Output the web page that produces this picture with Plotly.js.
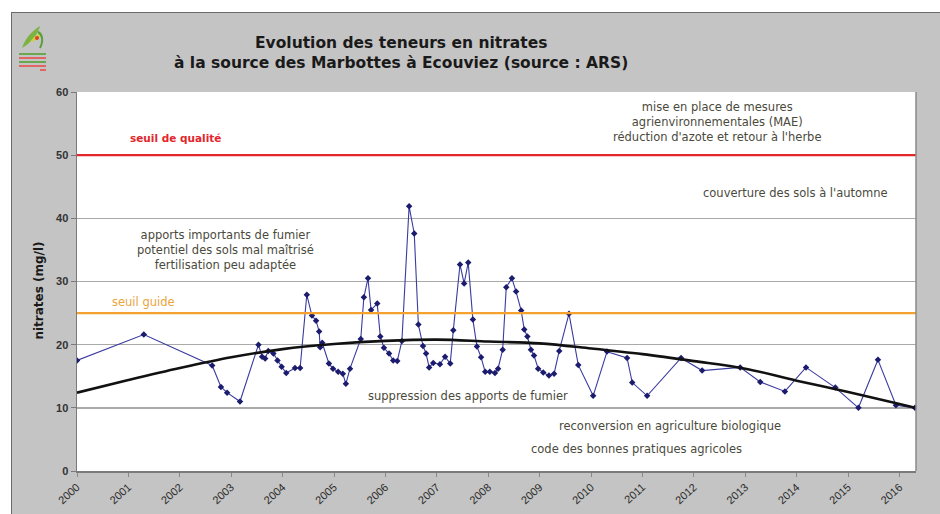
<!DOCTYPE html>
<html>
<head>
<meta charset="utf-8">
<script src="https://cdn.plot.ly/plotly-3.0.1.min.js"></script>
<style>
  html, body { margin: 0; padding: 0; background: #ffffff; width: 940px; height: 514px; overflow: hidden; }
  #wrap { position: absolute; left: 11px; top: 12px; width: 929px; height: 502px;
          border-top: 1px solid #6a6a6a; border-left: 1px solid #6a6a6a; box-sizing: border-box; }
  #chart { position: absolute; left: 0; top: 0; width: 928px; height: 501px; }
  #logo { position: absolute; left: 18px; top: 24px; width: 30px; height: 50px; }
</style>
</head>
<body>
<div id="wrap"><div id="chart"></div></div>
<svg id="logo" viewBox="0 0 30 50" xmlns="http://www.w3.org/2000/svg">
  <path d="M4 24 C 8 12, 16 6, 22 2 C 20 10, 14 18, 4 24 Z" fill="#7cb342"/>
  <path d="M12 18 C 16 12, 20 10, 24 9 C 22 14, 18 17, 12 18 Z" fill="#c8d43a"/>
  <path d="M20 8 C 24 10, 26 16, 22 24" stroke="#5a9e3a" stroke-width="2" fill="none"/>
  <circle cx="19" cy="14" r="2" fill="#e0402a"/>
  <rect x="1" y="29" width="27" height="2" fill="#6aa84f"/>
  <rect x="1" y="33" width="27" height="2" fill="#e06666"/>
  <rect x="1" y="37" width="27" height="2" fill="#6aa84f"/>
  <rect x="1" y="41" width="27" height="2" fill="#e06666"/>
  <rect x="22" y="45" width="6" height="2" fill="#e06666"/>
</svg>
<script>
// ---- data ----
const sampleYears = [
  2000.0, 2001.3, 2002.63, 2002.8, 2002.92, 2003.17, 2003.53, 2003.6, 2003.66, 2003.72,
  2003.82, 2003.9, 2003.98, 2004.07, 2004.24, 2004.34, 2004.47, 2004.57, 2004.65, 2004.71,
  2004.73, 2004.77, 2004.9, 2004.98, 2005.08, 2005.17, 2005.23, 2005.31, 2005.52, 2005.58,
  2005.66, 2005.72, 2005.84, 2005.9, 2005.97, 2006.07, 2006.15, 2006.23, 2006.32, 2006.46,
  2006.56, 2006.64, 2006.73, 2006.79, 2006.85, 2006.93, 2007.06, 2007.16, 2007.26, 2007.32,
  2007.45, 2007.53, 2007.61, 2007.7, 2007.78, 2007.86, 2007.94, 2008.03, 2008.13, 2008.19,
  2008.28, 2008.35, 2008.46, 2008.54, 2008.64, 2008.7, 2008.76, 2008.83, 2008.89, 2008.97,
  2009.07, 2009.18, 2009.28, 2009.38, 2009.57, 2009.75, 2010.04, 2010.31, 2010.7, 2010.8,
  2011.09, 2011.75, 2012.16, 2012.9, 2013.29, 2013.77, 2014.18, 2014.75, 2015.2, 2015.58,
  2015.93, 2016.3
];
const nitrates = [
  17.5, 21.6, 16.7, 13.3, 12.4, 11.0, 20.0, 18.1, 17.8, 19.0,
  18.6, 17.5, 16.5, 15.5, 16.3, 16.3, 27.9, 24.6, 23.8, 22.1,
  19.6, 20.3, 17.0, 16.2, 15.7, 15.4, 13.8, 16.2, 20.9, 27.5,
  30.5, 25.5, 26.5, 21.3, 19.5, 18.6, 17.5, 17.4, 20.6, 41.9,
  37.6, 23.2, 19.8, 18.6, 16.4, 17.1, 16.9, 18.1, 17.0, 22.3,
  32.7, 29.7, 33.0, 24.0, 19.7, 18.0, 15.7, 15.7, 15.5, 16.2,
  19.2, 29.1, 30.5, 28.4, 25.4, 22.4, 21.3, 19.2, 18.3, 16.2,
  15.6, 15.1, 15.4, 19.0, 24.9, 16.8, 11.9, 18.9, 17.9, 14.0,
  11.9, 17.9, 15.9, 16.4, 14.1, 12.6, 16.4, 13.2, 10.0, 17.6,
  10.4, 10.0
];
// trend curve, read at each year
const trendYears  = [2000, 2001, 2002, 2003, 2004, 2005, 2006, 2007, 2008, 2009, 2010, 2011, 2012, 2013, 2014, 2015, 2016, 2016.3];
const trendValues = [12.4, 14.4, 16.3, 18.0, 19.3, 20.1, 20.6, 20.8, 20.5, 20.2, 19.4, 18.5, 17.4, 16.2, 14.3, 12.5, 10.6, 10.0];

const tickYears  = [2000, 2001, 2002, 2003, 2004, 2005, 2006, 2007, 2008, 2009, 2010, 2011, 2012, 2013, 2014, 2015, 2016];
const tickLabels = tickYears.map(String);

const thresholdValues = [50, 25];
const thresholdNames  = ['seuil de qualité', 'seuil guide'];

const titleLines = [
  'Evolution des teneurs en nitrates',
  'à la source des Marbottes à Ecouviez (source : ARS)'
];

const noteTexts = [
  'apports importants de fumier<br>potentiel des sols mal maîtrisé<br>fertilisation peu adaptée',
  'mise en place de mesures<br>agrienvironnementales (MAE)<br>réduction d\'azote et retour à l\'herbe',
  'couverture des sols à l\'automne',
  'suppression des apports de fumier',
  'reconversion en agriculture biologique',
  'code des bonnes pratiques agricoles'
];
const noteX = [2002.88, 2012.46, 2013.98, 2007.6, 2011.53, 2010.89];
const noteY = [35.0, 55.2, 44.0, 11.9, 7.1, 3.5];

// ---- chart ----
const FONT = 'Liberation Sans, Arial, sans-serif';
const WIDE = 'DejaVu Sans, Verdana, sans-serif';
const thresholdColors = ['#e3262b', '#f5a12e'];

const traces = [
  {
    x: sampleYears, y: nitrates, type: 'scatter', mode: 'lines+markers',
    line: { color: '#3a3aa0', width: 1.1 },
    marker: { symbol: 'diamond', size: 5, color: '#1c1c6e' },
    hoverinfo: 'x+y', showlegend: false
  },
  {
    x: trendYears, y: trendValues, type: 'scatter', mode: 'lines',
    line: { color: '#111111', width: 2.6, shape: 'spline', smoothing: 1 },
    hoverinfo: 'skip', showlegend: false
  }
];

const shapes = thresholdValues.map((v, i) => ({
  type: 'line', xref: 'paper', yref: 'y', x0: 0, x1: 1, y0: v, y1: v,
  line: { color: thresholdColors[i], width: 2.2 }, layer: 'above'
}));
// right border of plot area
shapes.push({ type: 'line', xref: 'paper', yref: 'paper', x0: 1, x1: 1, y0: 0, y1: 1,
  line: { color: '#8a8a8a', width: 1.5 } });

const annotations = [];
noteTexts.forEach((t, i) => annotations.push({
  x: noteX[i], y: noteY[i], xref: 'x', yref: 'y', text: t, showarrow: false,
  xanchor: 'center', yanchor: 'middle', align: 'center',
  font: { family: WIDE, size: 11.5, color: '#4a4a3c' }
}));
annotations.push({ x: 2001.91, y: 52.7, xref: 'x', yref: 'y', text: '<b>' + thresholdNames[0] + '</b>',
  showarrow: false, font: { family: WIDE, size: 10.5, color: thresholdColors[0] } });
annotations.push({ x: 2001.3, y: 26.8, xref: 'x', yref: 'y', text: thresholdNames[1],
  showarrow: false, font: { family: WIDE, size: 11.5, color: '#e9a43c' } });
annotations.push({ x: -0.056, y: 0.476, xref: 'paper', yref: 'paper', text: '<b>nitrates (mg/l)</b>',
  textangle: -90, showarrow: false, font: { family: WIDE, size: 12, color: '#1a1a1a' } });
// title lines
annotations.push({ x: 0.386, y: 1.129, xref: 'paper', yref: 'paper', text: '<b>' + titleLines[0] + '</b>',
  showarrow: false, xanchor: 'center', yanchor: 'middle',
  font: { family: WIDE, size: 15.5, color: '#1a1a1a' } });
annotations.push({ x: 0.386, y: 1.076, xref: 'paper', yref: 'paper', text: '<b>' + titleLines[1] + '</b>',
  showarrow: false, xanchor: 'center', yanchor: 'middle',
  font: { family: WIDE, size: 15.5, color: '#1a1a1a' } });

const layout = {
  width: 928, height: 501,
  paper_bgcolor: '#c4c4c4', plot_bgcolor: '#ffffff',
  margin: { l: 65, r: 24, t: 79, b: 43, pad: 0 },
  xaxis: {
    range: [2000, 2016.32], tickvals: tickYears, ticktext: tickLabels, tickangle: -42,
    showgrid: false, zeroline: false, showline: true, linecolor: '#7a7a7a', linewidth: 1.5,
    ticks: 'outside', ticklen: 4, tickcolor: '#8a8a8a',
    tickfont: { family: FONT, size: 11, color: '#2a2a2a' }
  },
  yaxis: {
    range: [0, 60], tickvals: [0, 10, 20, 30, 40, 50, 60],
    ticktext: ['<b>0</b>', '<b>10</b>', '<b>20</b>', '<b>30</b>', '<b>40</b>', '<b>50</b>', '<b>60</b>'],
    showgrid: true, gridcolor: '#a9a9a9', gridwidth: 1.6, zeroline: false,
    showline: true, linecolor: '#7a7a7a', linewidth: 1.5,
    ticks: 'outside', ticklen: 5, tickcolor: '#7a7a7a',
    tickfont: { family: FONT, size: 11, color: '#333333' }
  },
  shapes: shapes,
  annotations: annotations,
  showlegend: false
};

Plotly.newPlot('chart', traces, layout, { displayModeBar: false, staticPlot: true });
</script>
</body>
</html>
